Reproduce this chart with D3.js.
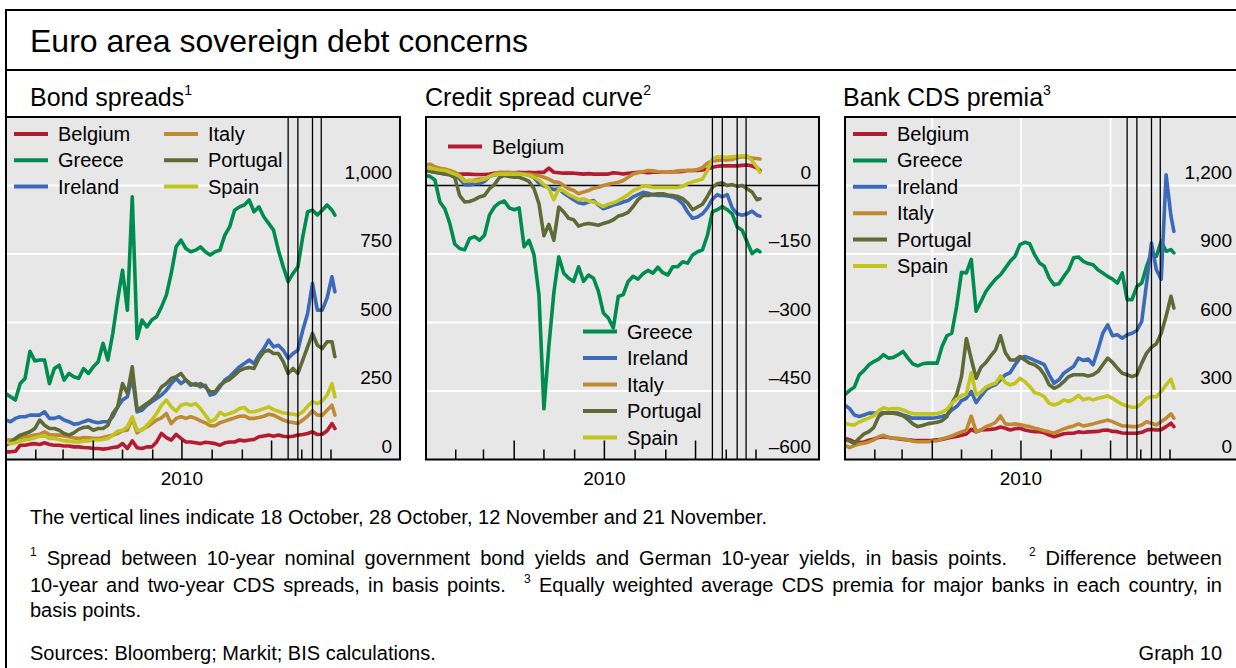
<!DOCTYPE html>
<html><head><meta charset="utf-8">
<script src="https://cdn.jsdelivr.net/npm/d3@7"></script>
<style>body{margin:0;background:#fff}svg{display:block;font-family:"Liberation Sans",Arial,Helvetica,sans-serif}</style>
</head><body><svg id="c" width="1236" height="668"></svg>
<script>
// ---------- DATA ----------
const dateLabels = ["01-01","01-06","01-11","01-16","01-21","01-26","01-31","02-05","02-10","02-15","02-20","02-25","03-02","03-07","03-12","03-17","03-22","03-27","04-01","04-06","04-11","04-16","04-21","04-26","05-01","05-06","05-11","05-16","05-21","05-26","05-31","06-05","06-10","06-15","06-20","06-25","06-30","07-05","07-10","07-15","07-20","07-25","07-30","08-04","08-09","08-14","08-19","08-24","08-29","09-03","09-08","09-13","09-18","09-23","09-28","10-03","10-08","10-13","10-18","10-23","10-28","11-02","11-07","11-12","11-17","11-22","11-27","12-02","12-05"];
const countries = ["Belgium","Greece","Ireland","Italy","Portugal","Spain"];
const countryColors = ["#b51b30","#008c4f","#3a6ab8","#bf8a32","#5f6a36","#c4c41e"];
const eventDates = ["10-18","10-28","11-12","11-21"];

// Bond spreads, bp
const bondBelgium = [28,28,30,52,52,56,58,55,61,55,52,52,49,49,46,46,44,43,40,40,38,40,44,46,58,40,68,43,40,46,46,64,95,80,71,92,77,64,64,61,58,63,61,58,52,61,64,64,71,68,71,73,83,86,89,85,89,85,83,85,89,91,95,101,91,92,105,131,113];
const bondGreece = [241,229,217,277,296,395,360,363,363,277,332,344,290,314,302,296,332,314,338,357,424,363,460,582,691,545,959,442,509,484,509,521,557,600,679,776,801,770,758,764,776,758,746,758,764,819,849,910,922,929,947,904,922,886,862,837,764,703,649,679,703,813,904,910,892,910,929,910,892];
const bondIreland = [144,138,150,156,156,162,162,162,174,150,150,156,144,138,129,131,138,144,138,134,138,138,156,192,217,229,302,174,180,198,211,223,235,253,277,296,277,290,271,277,265,271,235,241,265,290,302,320,338,350,363,350,381,405,436,411,417,399,369,387,399,472,533,643,545,545,590,667,612];
const bondItaly = [71,71,74,79,83,86,89,92,101,91,89,89,86,83,79,77,80,79,77,77,80,85,89,95,105,107,150,97,110,119,131,144,152,168,131,150,156,150,156,150,141,134,123,123,134,140,146,152,158,159,150,150,153,158,165,162,153,144,138,135,131,144,158,178,162,162,180,198,162];
const bondPortugal = [52,61,77,89,95,101,113,144,125,113,113,107,95,89,97,110,117,119,107,113,113,125,168,192,277,241,338,180,192,204,217,235,265,277,296,302,314,290,277,271,277,265,247,247,271,284,292,308,324,332,336,332,369,393,399,387,387,357,314,332,314,363,411,460,417,405,430,430,375];
const bondSpain = [64,58,61,67,71,74,79,85,86,77,77,73,68,67,64,64,67,68,71,71,73,77,89,103,107,119,156,107,107,125,144,168,198,217,192,176,198,204,198,204,186,162,138,146,172,162,168,174,186,190,174,174,180,185,192,182,176,170,168,165,162,174,195,211,204,214,235,277,229];

// Credit spread curve (10y minus 2y CDS), bp
const curveBelgium = [33,31,29,28,25,25,25,25,25,25,24,24,24,25,27,27,28,28,28,29,28,29,28,29,29,38,29,28,27,27,27,26,25,26,25,25,25,25,28,27,25,27,28,29,29,28,29,29,29,29,30,30,31,33,33,33,34,36,40,42,43,43,43,43,44,45,43,38,33];
const curveGreece = [22,20,12,-36,-51,-83,-128,-138,-141,-116,-112,-120,-109,-65,-47,-38,-34,-49,-53,-49,-134,-120,-152,-240,-489,-351,-235,-156,-192,-203,-210,-178,-210,-196,-203,-232,-279,-290,-312,-243,-239,-210,-199,-205,-193,-186,-192,-179,-191,-196,-178,-178,-167,-170,-152,-145,-141,-109,-58,-53,-46,-53,-62,-91,-98,-123,-149,-141,-145];
const curveIreland = [36,35,33,31,29,28,25,14,2,1,4,4,9,20,23,25,25,25,27,27,25,23,17,5,-1,-4,-9,-7,-17,-24,-31,-38,-40,-36,-33,-43,-51,-47,-43,-40,-36,-33,-25,-20,-15,-17,-20,-22,-22,-23,-25,-30,-40,-58,-72,-69,-62,-49,-30,-20,-25,-20,-49,-62,-65,-62,-56,-65,-67];
const curveItaly = [43,47,41,38,36,33,29,22,11,9,12,14,14,20,25,29,29,29,28,27,25,25,23,22,18,14,8,7,0,-7,-11,-18,-14,-11,-6,-4,0,3,5,7,11,18,25,28,30,33,32,30,29,29,30,32,33,33,33,35,39,49,54,55,56,56,57,61,63,62,60,59,58];
const curvePortugal = [33,31,29,27,25,23,18,-22,-36,-35,-31,-25,-22,-7,2,17,22,20,18,18,14,9,-7,-40,-110,-85,-120,-47,-58,-72,-75,-89,-85,-83,-85,-87,-83,-80,-75,-67,-64,-59,-46,-31,-22,-22,-20,-18,-18,-21,-22,-24,-29,-38,-53,-47,-41,-24,-4,4,6,0,2,-2,0,-7,-14,-31,-29];
const curveSpain = [40,38,36,34,33,29,25,20,9,12,9,11,14,20,24,25,25,25,25,25,24,22,18,12,2,-7,-31,-7,-12,-20,-25,-31,-29,-34,-36,-41,-46,-41,-38,-33,-27,-20,-11,-7,-1,-2,-4,-4,-4,-4,-4,-4,-2,4,8,11,14,33,58,63,63,62,63,64,65,65,54,40,29];

// Bank CDS premia, bp
const cdsBelgium = [93,87,77,74,77,84,90,97,100,96,93,91,88,86,84,83,83,83,84,86,88,93,97,101,106,112,132,121,129,131,132,135,142,137,129,135,137,129,125,122,122,117,107,100,106,113,115,115,121,118,121,122,123,128,129,123,122,116,115,115,115,119,129,132,129,131,144,159,144];
const cdsGreece = [283,302,317,371,390,415,429,440,459,444,447,459,473,444,419,410,419,422,422,422,495,542,553,670,820,817,876,649,692,736,765,790,809,838,868,890,941,951,945,897,861,846,795,765,770,802,831,883,887,868,858,853,831,817,802,790,773,817,700,700,758,773,846,905,890,956,912,919,905];
const cdsIreland = [239,224,195,188,195,203,203,205,205,203,205,203,195,188,181,181,181,181,181,184,188,195,217,232,258,268,298,249,278,305,320,327,349,371,381,415,444,451,444,434,425,415,371,334,349,378,393,407,444,434,440,415,480,553,590,542,546,531,546,553,565,605,773,948,831,790,1247,1066,999];
const cdsItaly = [64,52,61,68,71,77,86,100,106,97,93,93,90,86,80,78,78,78,80,82,90,96,103,112,121,129,190,122,129,144,151,163,191,156,153,156,153,148,144,137,132,126,121,115,125,134,141,147,156,147,151,156,162,167,173,166,156,147,147,144,144,151,165,159,151,166,181,200,181];
const cdsPortugal = [86,81,71,93,112,122,141,188,203,203,203,198,191,176,156,144,149,156,160,163,170,188,246,283,363,530,440,356,404,425,454,480,542,468,436,436,451,436,422,415,400,371,327,312,322,341,363,371,371,371,366,371,385,415,444,425,400,378,371,363,371,422,466,492,507,553,627,715,663];
const cdsSpain = [159,153,151,164,173,181,192,214,227,220,223,223,217,207,201,200,200,200,200,201,207,220,246,264,279,287,380,283,296,317,327,334,366,337,327,334,356,341,320,293,287,275,246,239,246,261,254,264,281,261,268,261,268,273,279,268,254,242,234,229,229,246,268,275,275,298,327,352,312];

const bondTicks = [0,250,500,750,1000];
const curveTicks = [-600,-450,-300,-150,0];
const cdsTicks = [0,300,600,900,1200];
const yearLabel = "2010";

// ---------- CHART ----------
const parse = d3.timeParse("%Y-%m-%d");
const dates = dateLabels.map(s => parse("2010-" + s));
const events = eventDates.map(s => parse("2010-" + s));
const svg = d3.select("#c");
svg.append("rect").attr("width",1236).attr("height",668).attr("fill","#fff");

// outer frame
const fr = svg.append("g").attr("stroke","#000").attr("stroke-width",2);
fr.append("line").attr("x1",6).attr("x2",1240).attr("y1",10).attr("y2",10);
fr.append("line").attr("x1",6).attr("x2",1240).attr("y1",70).attr("y2",70);
fr.append("line").attr("x1",6).attr("x2",6).attr("y1",9).attr("y2",670);

svg.append("text").attr("x",30).attr("y",52).attr("font-size",32).text("Euro area sovereign debt concerns");

function fmt(v){ return d3.format(",")(v).replace(/[-\u2212]/,"\u2013"); }

const panels = [
  {title:"Bond spreads", sup:"1", tx:30, box:[6,400], xr:[5.6,331], ydom:[0,1250], ticks:bondTicks,
   series:[bondBelgium,bondGreece,bondIreland,bondItaly,bondPortugal,bondSpain], vgrid:false, zero:false},
  {title:"Credit spread curve", sup:"2", tx:425, box:[426,819], xr:[425,756], ydom:[-600,150], ticks:curveTicks,
   series:[curveBelgium,curveGreece,curveIreland,curveItaly,curvePortugal,curveSpain], vgrid:false, zero:true},
  {title:"Bank CDS premia", sup:"3", tx:843, box:[845,1240], xr:[844.6,1170], ydom:[0,1500], ticks:cdsTicks,
   series:[cdsBelgium,cdsGreece,cdsIreland,cdsItaly,cdsPortugal,cdsSpain], vgrid:true, zero:false}
];
const TOP = 117, BOT = 459.5;

panels.forEach((p,pi) => {
  const g = svg.append("g");
  const [bx0,bx1] = p.box;
  const x = d3.scaleTime().domain([parse("2010-01-01"), parse("2010-12-01")]).range(p.xr);
  const y = d3.scaleLinear().domain(p.ydom).range([BOT, TOP]);

  // title
  const t = g.append("text").attr("x",p.tx).attr("y",106).attr("font-size",25).text(p.title);
  t.append("tspan").attr("font-size",14).attr("dy",-11).text(p.sup);

  g.append("rect").attr("x",bx0).attr("y",TOP).attr("width",bx1-bx0).attr("height",BOT-TOP).attr("fill","#e7e7e7");
  const clipId = "clip"+pi;
  g.append("clipPath").attr("id",clipId).append("rect").attr("x",bx0).attr("y",TOP).attr("width",bx1-bx0).attr("height",BOT-TOP);

  // horizontal grid
  p.ticks.forEach(v => {
    if (v === p.ydom[0]) return;
    g.append("line").attr("x1",bx0).attr("x2",bx1).attr("y1",y(v)).attr("y2",y(v))
      .attr("stroke", (p.zero && v===0) ? "#000" : "#fff").attr("stroke-width", (p.zero && v===0) ? 1.4 : 2);
  });
  // vertical grid (quarters)
  const months = d3.timeMonth.range(parse("2010-02-01"), parse("2010-12-02"));
  if (p.vgrid) months.filter(m => m.getMonth()%3===0).forEach(m => {
    g.append("line").attr("x1",x(m)).attr("x2",x(m)).attr("y1",TOP).attr("y2",BOT).attr("stroke","#fff").attr("stroke-width",2);
  });

  // series
  const line = d3.line().x((d,i)=>x(dates[i])).y(d=>y(d)).curve(d3.curveLinear);
  const lg = g.append("g").attr("clip-path",`url(#${clipId})`);
  p.series.forEach((s,ci) => {
    lg.append("path").attr("d", line(s)).attr("fill","none").attr("stroke",countryColors[ci])
      .attr("stroke-width",3.6).attr("stroke-linejoin","round").attr("stroke-linecap","round");
  });

  // event lines
  events.forEach(d => {
    g.append("line").attr("x1",x(d)).attr("x2",x(d)).attr("y1",TOP).attr("y2",BOT).attr("stroke","#000").attr("stroke-width",1.3);
  });
  // x ticks
  months.forEach(m => {
    const len = m.getMonth()%3===0 ? 19 : 10;
    g.append("line").attr("x1",x(m)).attr("x2",x(m)).attr("y1",BOT-len).attr("y2",BOT).attr("stroke","#000").attr("stroke-width",1.5);
  });
  g.append("text").attr("x",x(parse("2010-07-01"))).attr("y",485).attr("font-size",19).attr("text-anchor","middle").text(yearLabel);

  // y labels
  p.ticks.forEach(v => {
    g.append("text").attr("x",bx1-8).attr("y",y(v)-7).attr("font-size",19).attr("text-anchor","end").text(fmt(v));
  });

  // legend
  let items;
  if (pi===0) items = countries.map((c,i)=>({c,i,x: i<3?14:164, y:134+26.3*(i%3)}));
  else if (pi===1) items = countries.map((c,i)=>({c,i,x: i===0?448:583, y: i===0?146.5:331.5+26.5*(i-1)}));
  else items = countries.map((c,i)=>({c,i,x:853, y:134+26.4*i}));
  items.forEach(it => {
    g.append("line").attr("x1",it.x).attr("x2",it.x+34).attr("y1",it.y).attr("y2",it.y)
      .attr("stroke",countryColors[it.i]).attr("stroke-width",4);
    g.append("text").attr("x",it.x+44).attr("y",it.y+7).attr("font-size",20).text(it.c);
  });

  g.append("rect").attr("x",bx0).attr("y",TOP).attr("width",bx1-bx0).attr("height",BOT-TOP)
    .attr("fill","none").attr("stroke","#000").attr("stroke-width",2);
});

// ---------- FOOTER ----------
const note0 = "The vertical lines indicate 18 October, 28 October, 12 November and 21 November.";
const footLines = [
  "^1 Spread between 10-year nominal government bond yields and German 10-year yields, in basis points. ^2 Difference between",
  "10-year and two-year CDS spreads, in basis points. ^3 Equally weighted average CDS premia for major banks in each country, in"
];
const footLast = "basis points.";
const sources = "Sources: Bloomberg; Markit; BIS calculations.";
const graphNo = "Graph 10";

svg.append("text").attr("x",30).attr("y",523.5).attr("font-size",20).text(note0);
function justify(str, x0, x1, yb){
  const toks = str.split(" ").map(w => w[0]==="^" ? {t:w.slice(1), sup:true} : {t:w, sup:false});
  const els = toks.map(tk => svg.append("text").attr("font-size", tk.sup?12:20).text(tk.t));
  const ws = els.map(e => e.node().getComputedTextLength());
  const gaps = toks.map((tk,i) => i===0 ? 0 : (tk.sup ? 2.2 : 1));
  const unit = (x1 - x0 - d3.sum(ws)) / d3.sum(gaps);
  let cx = x0;
  toks.forEach((tk,i) => { cx += gaps[i]*unit; els[i].attr("x",cx).attr("y", tk.sup ? yb-9 : yb); cx += ws[i]; });
}
justify(footLines[0], 30, 1222, 565);
justify(footLines[1], 30, 1222, 591.5);
svg.append("text").attr("x",30).attr("y",617).attr("font-size",20).text(footLast);
svg.append("text").attr("x",30).attr("y",660).attr("font-size",20).text(sources);
svg.append("text").attr("x",1222).attr("y",660).attr("font-size",20).attr("text-anchor","end").text(graphNo);
</script></body></html>
